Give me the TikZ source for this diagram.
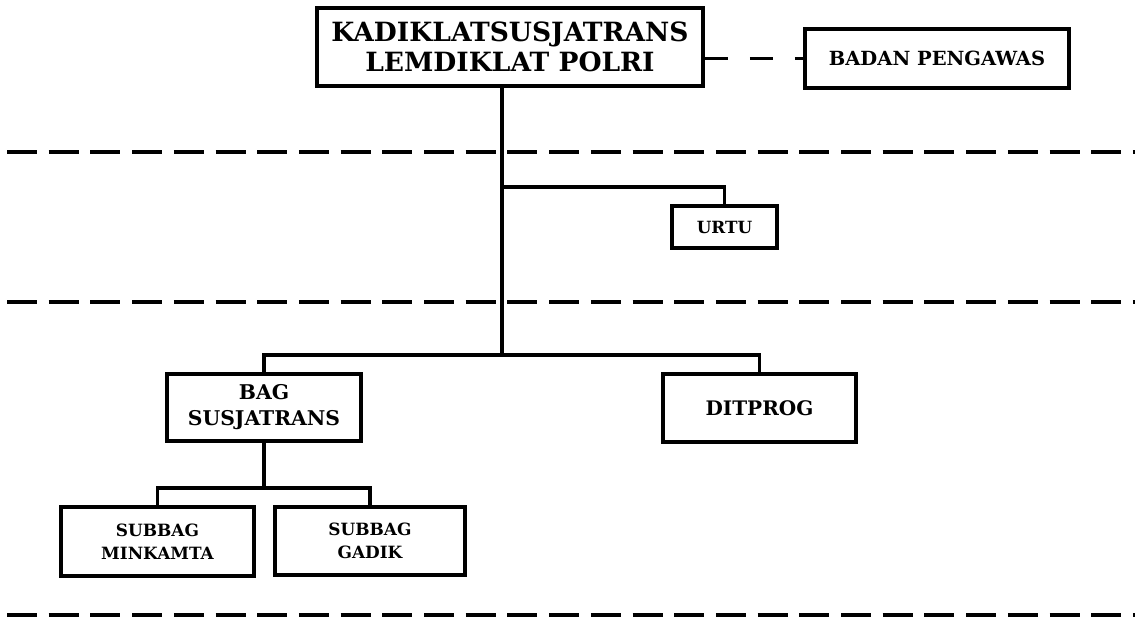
\documentclass[tikz,border=0pt]{standalone}
\usepackage{fontspec}
\setmainfont{DejaVu Serif}
\begin{document}
\begin{tikzpicture}[x=1pt,y=-1pt,
  box/.style={draw=black,line width=3.6pt,fill=white,align=center,inner sep=0pt,font=\bfseries},
  link/.style={draw=black,line width=3.4pt},
  sepline/.style={draw=black,line width=4.2pt,dash pattern=on 30pt off 11.7pt},
  dlink/.style={draw=black,line width=3.4pt,dash pattern=on 23pt off 22pt}]
\useasboundingbox[fill=white] (0,0) rectangle (1135,618);
% separators
\draw[sepline] (7,152) -- (1140,152);
\draw[sepline] (7,302) -- (1140,302);
\draw[sepline] (7,615) -- (1140,615);
% junctions
\coordinate (j1) at (502,187);
\coordinate (j2) at (502,355);
\coordinate (j3) at (264,488);
% boxes
\node[box,minimum width=386pt,minimum height=78pt,font=\bfseries\fontsize{26.5}{30}\selectfont] (main) at (510,47) {KADIKLATSUSJATRANS\\LEMDIKLAT POLRI};
\node[box,minimum width=264pt,minimum height=59pt,font=\bfseries\fontsize{19.5}{20}\selectfont] (badan) at (937,58.5) {BADAN PENGAWAS};
\node[box,minimum width=105pt,minimum height=42pt,font=\bfseries\fontsize{16.8}{20}\selectfont] (urtu) at (724.5,227) {URTU};
\node[box,minimum width=193pt,minimum height=68pt,font=\bfseries\fontsize{20}{22}\selectfont] (dit) at (759.5,408) {DITPROG};
\node[box,minimum width=194pt,minimum height=67pt,font=\bfseries\fontsize{20.3}{26}\selectfont] (bag) at (264,407.5) {BAG\\SUSJATRANS};
\node[box,minimum width=193pt,minimum height=69pt,font=\bfseries\fontsize{16.9}{23}\selectfont] (mink) at (157.5,541.5) {SUBBAG\\MINKAMTA};
\node[box,minimum width=190pt,minimum height=68pt,font=\bfseries\fontsize{16.9}{23}\selectfont] (gad) at (370,541) {SUBBAG\\GADIK};
% connectors
\draw[link] (j1 |- main.south) -- (j2);
\draw[link] (j1) -| (urtu.north);
\draw[link] (bag.north) |- (j2) -| (dit.north);
\draw[link] (bag.south) -- (j3);
\draw[link] (mink.north) |- (j3) -| (gad.north);
\draw[dlink] (main.east |- badan.west) -- (badan.west);
\end{tikzpicture}
\end{document}
